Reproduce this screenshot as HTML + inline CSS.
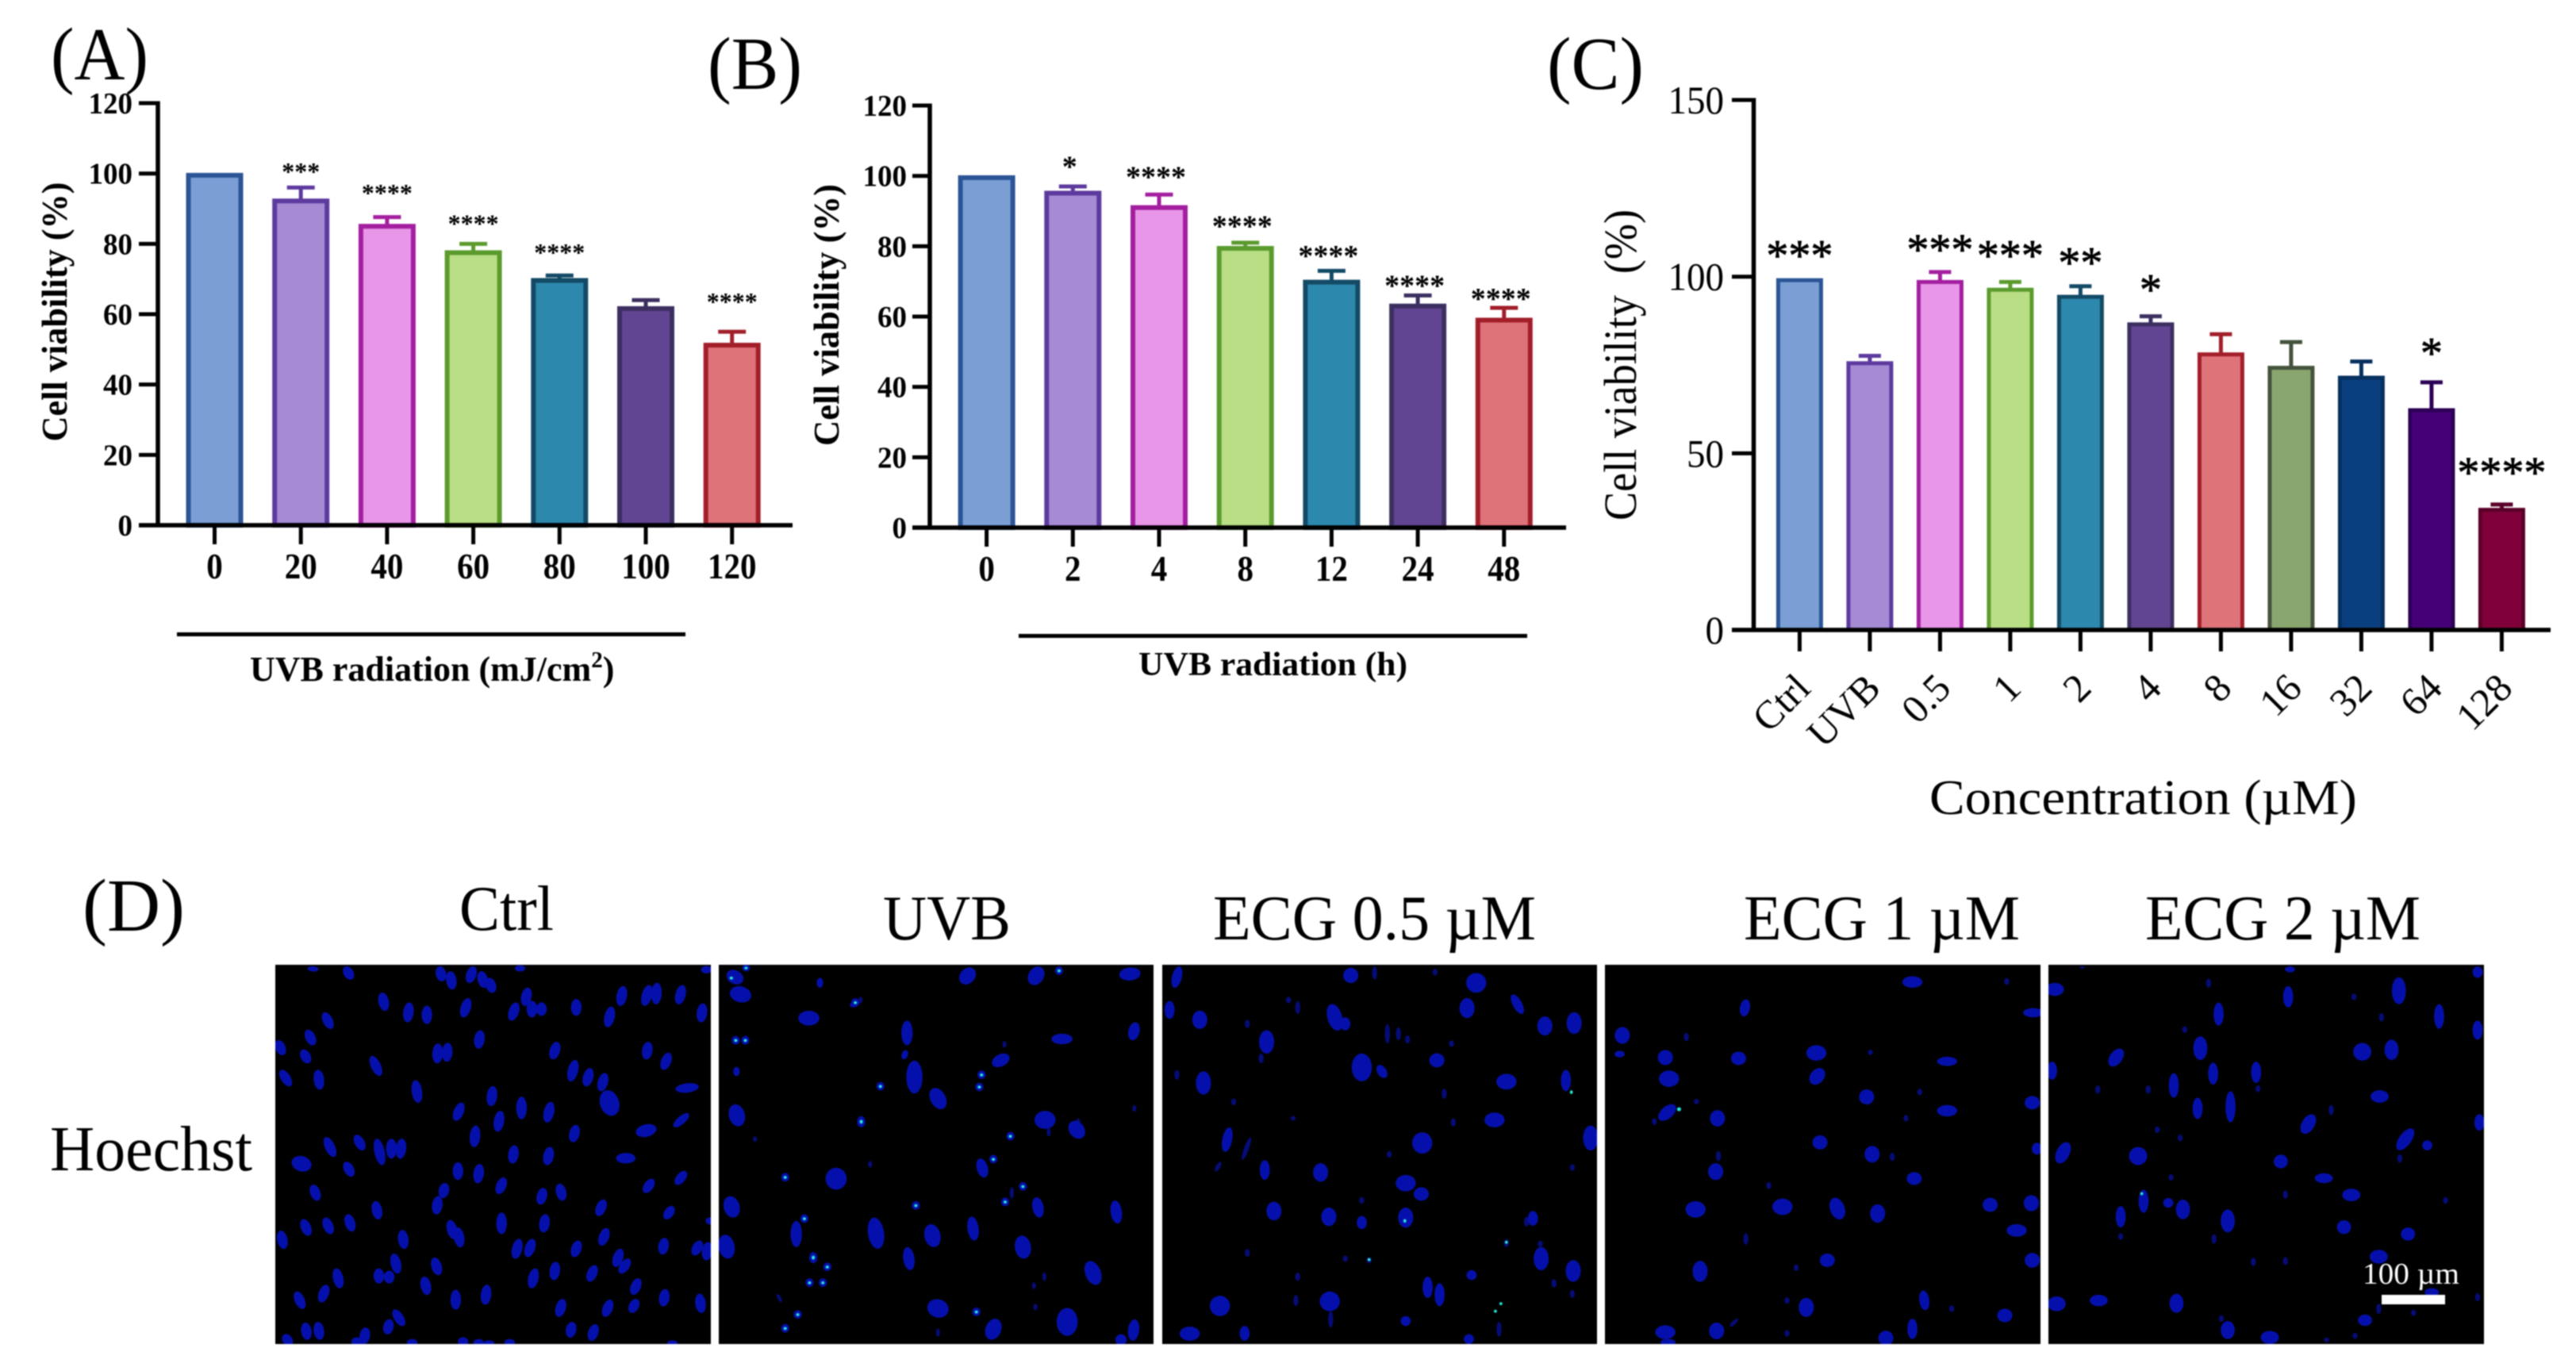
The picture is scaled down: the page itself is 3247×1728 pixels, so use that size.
<!DOCTYPE html>
<html lang="en">
<head>
<meta charset="utf-8">
<title>Cell viability panels and Hoechst staining</title>
<style>
html,body{margin:0;padding:0;background:#fff}
svg#figure{display:block;filter:blur(.8px)}
text{font-family:"Liberation Serif",serif;fill:#000}
.b{font-weight:bold}
.nuc{fill:#0510ac;stroke:none}
.dim{fill:#050c78;stroke:none}
.hot{fill:#25e6d8;stroke:none}
</style>
</head>
<body>
<svg id="figure" xmlns="http://www.w3.org/2000/svg" width="3247" height="1728" viewBox="0 0 3247 1728">
<rect width="3247" height="1728" fill="#fff"/>

<text x="64" y="100" font-size="94" textLength="123" lengthAdjust="spacingAndGlyphs">(A)</text>
<text x="892" y="112" font-size="94" textLength="119" lengthAdjust="spacingAndGlyphs">(B)</text>
<text x="1950" y="112" font-size="94" textLength="122" lengthAdjust="spacingAndGlyphs">(C)</text>
<text x="104" y="1173" font-size="94" textLength="129" lengthAdjust="spacingAndGlyphs">(D)</text>

<g id="chart-a"></g>
<g id="chart-b"></g>
<g id="chart-c"></g>

<text class="b" transform="translate(84 393) rotate(-90)" text-anchor="middle" font-size="46" textLength="327" lengthAdjust="spacingAndGlyphs">Cell viability (%)</text>
<text class="b" transform="translate(1057 397) rotate(-90)" text-anchor="middle" font-size="46" textLength="330" lengthAdjust="spacingAndGlyphs">Cell viability (%)</text>
<text transform="translate(2062 460) rotate(-90)" text-anchor="middle" font-size="58" textLength="392" lengthAdjust="spacingAndGlyphs" xml:space="preserve">Cell viability  (%)</text>

<rect x="223" y="797" width="641" height="5"/>
<text class="b" x="315" y="858" font-size="44">UVB radiation (mJ/cm<tspan font-size="29" dy="-17">2</tspan><tspan dy="17">)</tspan></text>
<rect x="1284" y="799" width="641" height="5"/>
<text class="b" x="1435" y="851" font-size="42" textLength="339" lengthAdjust="spacingAndGlyphs">UVB radiation (h)</text>
<text x="2432" y="1026" font-size="62" textLength="539" lengthAdjust="spacingAndGlyphs">Concentration (µM)</text>

<text x="579" y="1172" font-size="80" textLength="119" lengthAdjust="spacingAndGlyphs">Ctrl</text>
<text x="1113" y="1184" font-size="80" textLength="161" lengthAdjust="spacingAndGlyphs">UVB</text>
<text x="1529" y="1184" font-size="80" textLength="407" lengthAdjust="spacingAndGlyphs">ECG 0.5 µM</text>
<text x="2198" y="1184" font-size="80" textLength="348" lengthAdjust="spacingAndGlyphs">ECG 1 µM</text>
<text x="2704" y="1184" font-size="80" textLength="347" lengthAdjust="spacingAndGlyphs">ECG 2 µM</text>
<text x="63" y="1475" font-size="80" textLength="255" lengthAdjust="spacingAndGlyphs">Hoechst</text>

<!-- Micrograph: Ctrl -->
<g>
<rect x="347" y="1216" width="549" height="478" fill="#000"/>
<svg x="347" y="1216" width="549" height="478" viewBox="373 330 589 1155" preserveAspectRatio="none">
<path class="nuc" stroke-width="13" d="M423 341l2 3M470 341l4 28M596 341l2 33M610 356l2 43M640 341l-4 38M652 356l3 38M663 376l3 33M704 338v6M956 340v10M518 421l3 43M554 451l-2 48M578 461v43M633 438l-5 46M714 406l-3 43M698 451l-5 43M720 446v38M733 451v28M780 441v38M827 464l-4 50M843 401l-3 48M878 398l-5 51M889 391l-1 53M923 398l-4 46M951 454l-2 45M441 481l6 38M418 534l5 35M378 566l4 33M412 594l4 30M650 536l-2 43M593 576l-1 48M606 574l-1 45M753 571l-4 41M877 571l-2 41M904 604l-5 40M505 614l8 48M383 656l8 38M431 656l2 48M778 626l-5 53M798 651l-4 43M818 666l-4 43M563 688l3 56M667 706l-2 48M624 756l-6 43M706 738v56M745 754l-4 50M677 781l-3 51M928 788l-12 31M779 824l-3 40M644 826l-2 53M443 861l8 48M484 854l6 35M511 866l6 68M530 866v48M544 866l-2 48M696 886l-2 43M744 891l-3 43M470 936l5 33M620 938v41M649 943l-2 46M925 964l-7 30M681 984l-5 38M881 988l-6 31M602 1001l-2 33M425 1006l4 36M735 1016l-3 38M758 1003l3 39M593 1041l-2 43M509 1056l3 43M816 1051l-5 38M908 1071l-5 28M679 1091v53M738 1096l-2 43M412 1111l5 38M442 1106l5 38M472 1096l4 40M610 1114l4 45M620 1136l3 48M545 1144l2 45M381 1146l3 43M820 1138l-5 41M702 1171l-4 48M720 1171l-5 43M782 1176l-4 38M899 1168l-2 38M946 1176l-5 33M958 1181l-2 43M839 1201l-5 43M849 1231l-7 33M534 1216l4 48M589 1228l4 41M752 1241l-2 43M724 1261l-4 48M804 1251l-5 38M863 1291l-5 38M456 1261l4 48M513 1261v33M527 1268v26M575 1286l3 43M441 1311l-5 41M403 1331l6 41M617 1326v48M659 1311l-2 48M900 1324l-2 40M947 1338l2 46M761 1354l-4 42M825 1356l-5 40M860 1354l-4 30M536 1386l8 38M527 1416l-2 33M414 1426l2 40M431 1424l2 42M495 1441l-2 38M774 1424l-2 35M805 1431l-4 38M388 1461l3 24M483 1471v14M558 1476v9M627 1471v14M648 1476v9M662 1480v5M690 1476v9M910 1480v5M962 1105v10"/>
<path class="nuc" stroke-width="24" d="M934 702l-8 6M823 724l4 54M877 827l-5 16M407 924l3 24M847 915v8"/>
</svg>
</g>

<!-- Micrograph: UVB -->
<g>
<rect x="906" y="1216" width="548" height="478" fill="#000"/>
<svg x="906" y="1216" width="548" height="478" viewBox="973 330 589 1155" preserveAspectRatio="none">
<path class="dim" stroke-width="5" d="M1165 430v15M1360 565v15M1420 830v20M1022 855v12M1178 930v15M1370 1010v30M1053 1335l4 20M1414 1270v20M1400 1300v15M1402 1365v15M1460 800v15M1536 760v15M1270 1440v20"/>
<path class="nuc" stroke-width="8" d="M1226 594l-2 20M1155 449v7M1110 374v22M997 645v20"/>
<path class="nuc" stroke-width="14" d="M1228 507v61M1537 512l-3 41M1328 927l4 44M1404 1045l3 48M1510 1055l3 56M1078 1117v66M1316 1104l3 59M1229 1197l3 56M1536 1417l-2 51M1518 1462v20"/>
<path class="nuc" stroke-width="20" d="M1312 348l-4 32M1405 345l-4 37M993 355l4 25M1358 610l-6 22M1238 632v80M1267 715l6 45M996 765l3 47M1456 815l4 35M989 1045l3 45M1184 1110l4 75M1261 1130l3 50M1384 1165l2 50M982 1162l3 53M1477 1242l6 53M1347 1418l-4 44"/>
<path class="nuc" stroke-width="26" d="M1531 351l-2 14M1001 408l3 24M1095 483v19M1438 553v6M1415 788v29M1132 961v41M1269 1361l2 31M1445 1388v59"/>
<path class="nuc" stroke-width="10" d="M990 362v16M1010 335v10M1434 340v16M1158 437v16M996 552v16M1009 552v16M1329 657v16M1326 694v16M1192 692v16M1166 796v24M1368 844v16M1345 914v16M1063 969v16M1385 997v16M1361 1044v16M1240 1055v16M1089 1095v16M1101 1210v24M1120 1242v16M1096 1290v16M1114 1290v16M1080 1387v16M1322 1379v16M1063 1429v16"/>
<path class="hot" stroke-width="4" d="M990 368v5M1010 338v4M1434 346v5M1158 443v5M996 558v5M1009 558v5M1329 663v5M1326 700v5M1192 698v5M1166 804v8M1368 850v5M1345 920v5M1063 975v5M1385 1003v5M1361 1050v5M1240 1061v5M1089 1101v5M1101 1218v8M1120 1248v5M1096 1296v5M1114 1296v5M1080 1393v5M1322 1385v5M1063 1435v5"/>
</svg>
</g>

<!-- Micrograph: ECG 0.5 -->
<g>
<rect x="1465" y="1216" width="548" height="478" fill="#000"/>
<svg x="1465" y="1216" width="548" height="478" viewBox="22 330 475 1155" preserveAspectRatio="none">
<path class="dim" stroke-width="5" d="M254 338v34M435 1173v14M398 1168v19M248 1223v14M222 1218v14M115 1198v19M206 1388v44M165 793v9M118 858l-8 64M85 933l-4 24M170 443v34M268 513v54M290 548v19M130 603v24M280 523v34M338 563v14M38 653v24M168 1338v29M470 1323v19M320 345v15M160 430v15M115 500v20M330 710v25M340 800v20M270 900v15M240 1040v15M420 1100v25M390 1420v40M170 1270v20M450 1290v20M470 940v15M100 740v15"/>
<path class="nuc" stroke-width="10" d="M40 340l-4 55M406 425l8 50M30 445v45M222 495v30M463 655v55M95 830l-4 65M427 1085v35M134 930v50M240 1100v30M312 1285v55M325 1305v60M360 1265v20M288 1405v20M112 1435v35M357 1460v20M260 640l4 30"/>
<path class="nuc" stroke-width="15" d="M228 347v31M355 439v46M63 477v41M440 495v43M472 482v51M136 537v56M67 662v56M195 942v41M305 1015v26M204 1077v41M288 1077v46M144 1059v42M436 1197v56M471 1237v51M208 457l5 66M322 607v28M490 827v61"/>
<path class="nuc" stroke-width="20" d="M365 365v40M240 610v65M398 672v28M385 790v25M306 850v45M288 980v30M85 1348v42M205 1335v40M52 1442v23"/>
<path class="hot" stroke-width="3" d="M469 714v8M287 1106v8M398 1172v6M392 1359v6M386 1382v6M248 1225v6"/>
</svg>
</g>

<!-- Micrograph: ECG 1 -->
<g>
<rect x="2023" y="1216" width="549" height="478" fill="#000"/>
<svg x="2023" y="1216" width="549" height="478" viewBox="506 330 476 1155" preserveAspectRatio="none">
<path class="dim" stroke-width="5" d="M945 373v16M796 591v11M606 741v11M595 540v20M660 1150v30M850 710v15M835 790v15M820 905v20M685 995v15M715 1245v15M885 1370v15M705 1345v15M650 1410l-6 20M630 900v25M560 800v15M705 1445v15"/>
<path class="nuc" stroke-width="10" d="M660 440l-2 42M522 597v10M978 877v26M854 1327l2 50M842 1413v52"/>
<path class="nuc" stroke-width="15" d="M525 527v36M572 597v31M652 602v26M740 652l-4 36M792 717v31M973 737v26M578 762l-8 36M629 780v35M741 857v28M798 889v36M627 942v36M844 969v24M758 1047l4 51M804 1067v41M927 1047v28M972 1039v34M749 1217v26M973 1215v30M610 1239v49M726 1352v43M943 1385v26M628 1427v36M575 1477v5M813 1452v30"/>
<path class="nuc" stroke-width="20" d="M842 375v15M974 472v8M737 585v27M880 620v8M576 662v30M880 767v15M605 1060v30M700 1052v30M956 1130v18M572 1438v22"/>
<path class="hot" stroke-width="4" d="M587 766v8"/>
</svg>
</g>

<!-- Micrograph: ECG 2 -->
<g>
<rect x="2582" y="1216" width="549" height="478" fill="#000"/>
<svg x="2582" y="1216" width="549" height="478" viewBox="991 330 476 1155" preserveAspectRatio="none">
<path class="dim" stroke-width="5" d="M1028 337v2M1166 375v22M1352 1365v26M1326 1453v14M1295 1468v9M1460 1333v19M1172 1153v24M1250 1223v19M1390 1383v14M1140 520v15M1355 480v20M1325 420v15M1100 700v20M1045 700v20M1220 700v15M1300 760v25M1110 825v15M1135 850v15M1375 910v20M1125 970v15M1250 1020v20M1425 1040v15M1070 1150v15M1215 1225v20M1180 1400v15"/>
<path class="nuc" stroke-width="10" d="M1255 340v8M1253 400v55M1177 450v60M1418 455v65M1460 505v48M1171 633v57M1218 630v55M1128 665v65M995 630v45M1154 740v55M1190 720v85M1462 790v40M1405 870v20M1095 1020v60M1122 1045v20M1070 1070v55M1460 340v25"/>
<path class="nuc" stroke-width="14" d="M1157 555v58M1366 565v48M1068 592l-6 41M1374 375v68M1386 835l-10 53M1010 877l-6 51M1245 915v28M1138 1052v46M1187 1082v56M1314 1115v28M1384 1137v26M1131 1339v44M1337 1402v21M1187 1422v41M1410 1322v11M1278 792l-6 46"/>
<path class="nuc" stroke-width="18" d="M998 394v22M1334 577v36M1353 721v20M1089 894v37M1292 974v12M1322 1021v20M1352 1207v24M1000 1349v27M1046 1344v17M1233 1454v22"/>
<path class="hot" stroke-width="3" d="M1093 1024v6"/>
</svg>
<rect x="3002" y="1632" width="80" height="12" fill="#fff"/>
<text x="2978" y="1618" font-size="38" style="fill:#fff" textLength="122" lengthAdjust="spacingAndGlyphs">100 µm</text>
</g>
</svg>

<script>
const svgNS = 'http://www.w3.org/2000/svg';

/* Panel A */
const aCategories = ['0','20','40','60','80','100','120'];
const aValues = [99.5,92.2,85,77.5,69.6,61.6,51.2];
const aErrorTops = [99.5,96,87.6,80,71,64,55];
const aStars = ['','***','****','****','****','','****'];
const aStarLevels = [0,101.5,95.4,86.8,78.5,0,64.5];
const aTicks = [0,20,40,60,80,100,120];

/* Panel B */
const bCategories = ['0','2','4','8','12','24','48'];
const bValues = [99.5,95.1,91,79.4,69.8,63,59];
const bErrorTops = [99.5,97,94.7,81,73,66,62.5];
const bStars = ['','*','****','****','****','****','****'];
const bStarLevels = [0,103.5,100.6,86.6,78.1,69.7,65.9];
const bTicks = [0,20,40,60,80,100,120];

/* Panel C */
const cCategories = ['Ctrl','UVB','0.5','1','2','4','8','16','32','64','128'];
const cValues = [99,75.5,98.5,96.3,94.3,86.5,78,74.2,71.4,62.2,34];
const cErrorTops = [99,77.6,101.3,98.5,97.3,88.8,83.7,81.5,76,70.1,35.5];
const cStars = ['***','','***','***','**','*','','','','*','****'];
const cStarLevels = [106.9,0,108.5,106.9,104.9,97.2,0,0,0,79.3,45.4];
const cTicks = [0,50,100,150];

/* Palettes */
const fillsAB = ['#7b9fd4','#a58ad4','#e896e8','#b9de85','#2d88ad','#624592','#df737a'];
const strokesAB = ['#2b5596','#5d3a9e','#a31fa0','#5b9b2e','#134a66','#3c2f60','#a21f2a'];
const fillsC = ['#7b9fd4','#a58ad4','#e896e8','#b9de85','#2d88ad','#624592','#df737a','#8aa66f','#0a3f7f','#450078','#80003a'];
const strokesC = ['#2b5596','#5d3a9e','#a31fa0','#5b9b2e','#134a66','#3c2f60','#a21f2a','#45523c','#06305e','#2c0055','#5a0028'];

function mk(parent, tag, attrs) {
  const el = document.createElementNS(svgNS, tag);
  for (const k in attrs) el.setAttribute(k, attrs[k]);
  parent.appendChild(el);
  return el;
}

function drawChart(root, o) {
  const xScale = i => o.firstX + i * o.step;
  const yScale = v => o.y0 - v * o.unit;

  o.values.forEach((v, i) => {
    const cx = xScale(i);
    if (o.errors[i] > v) {
      const stem = mk(root, 'line', {x1: cx, x2: cx, y1: yScale(v), y2: yScale(o.errors[i]), stroke: o.strokes[i], 'stroke-width': 5});
      
      
      const cap = mk(root, 'line', {x1: cx - o.capHalf, x2: cx + o.capHalf, y1: yScale(o.errors[i]), y2: yScale(o.errors[i]), stroke: o.strokes[i], 'stroke-width': 5});
      
      
    }
    const bar = mk(root, 'rect', {x: cx - o.barW / 2, y: yScale(v), width: o.barW, height: o.y0 - yScale(v), fill: o.fills[i], stroke: o.strokes[i], 'stroke-width': o.barStroke});
    
    

    if (o.stars[i]) {
      const star = mk(root, 'text', {x: cx + o.starDx, y: yScale(o.starLevels[i]) + o.starSize * o.starK, 'font-size': o.starSize, 'text-anchor': 'middle'});
      if (o.bold) star.setAttribute('class', 'b');
      if (o.starStroke) {
        star.setAttribute('stroke', '#000');
        star.setAttribute('stroke-width', o.starStroke);
      }
      star.textContent = o.stars[i];
      
      
    }

    const tick = mk(root, 'line', {x1: cx, x2: cx, y1: o.y0, y2: o.tickBottom, stroke: '#000', 'stroke-width': 5});
    
    

    const lab = mk(root, 'text', o.rotated
      ? {transform: 'translate(' + (cx + 16) + ' ' + o.labelY + ') rotate(-45)', 'font-size': o.xFont, 'text-anchor': 'end'}
      : {x: cx, y: o.labelY, 'font-size': o.xFont, 'text-anchor': 'middle', textLength: o.categories[i].length * 0.5 * o.xFontW, lengthAdjust: 'spacingAndGlyphs'});
    if (o.bold) lab.setAttribute('class', 'b');
    lab.textContent = o.categories[i];
    
    
  });

  const yAxis = mk(root, 'line', {x1: o.axisX, x2: o.axisX, y1: yScale(o.ticks[o.ticks.length - 1]) - 2.5, y2: o.y0 + 2.5, stroke: '#000', 'stroke-width': 5.5});
  
  
  const xAxis = mk(root, 'line', {x1: o.axisLeft, x2: o.axisRight, y1: o.y0, y2: o.y0, stroke: '#000', 'stroke-width': 5.5});
  
  

  o.ticks.forEach(t => {
    const tick = mk(root, 'line', {x1: o.axisLeft, x2: o.axisX, y1: yScale(t), y2: yScale(t), stroke: '#000', 'stroke-width': 5});
    
    
    const text = String(t);
    const lab = mk(root, 'text', {x: o.yLabelRight, y: yScale(t) + o.yFont * 0.34, 'font-size': o.yFont, 'text-anchor': 'end', textLength: text.length * 0.5 * o.yFontW, lengthAdjust: 'spacingAndGlyphs'});
    if (o.bold) lab.setAttribute('class', 'b');
    lab.textContent = text;
    
    
  });
}

drawChart(document.getElementById('chart-a'), {
  categories: aCategories, values: aValues, errors: aErrorTops, stars: aStars, starLevels: aStarLevels, ticks: aTicks,
  fills: fillsAB, strokes: strokesAB, bold: true, rotated: false,
  firstX: 270.5, step: 108.7, y0: 662, unit: 4.433, barW: 66, barStroke: 6, capHalf: 17.5,
  starSize: 32, starK: 0.473, starDx: 0, xFont: 46, xFontW: 41, yFont: 38, yFontW: 37, labelY: 729, tickBottom: 686,
  axisX: 199, axisLeft: 175, axisRight: 999, yLabelRight: 167
});
drawChart(document.getElementById('chart-b'), {
  categories: bCategories, values: bValues, errors: bErrorTops, stars: bStars, starLevels: bStarLevels, ticks: bTicks,
  fills: fillsAB, strokes: strokesAB, bold: true, rotated: false,
  firstX: 1243.6, step: 108.7, y0: 665, unit: 4.433, barW: 66, barStroke: 6, capHalf: 17.5,
  starSize: 38, starK: 0.43, starDx: -4, xFont: 46, xFontW: 41, yFont: 38, yFontW: 37, labelY: 732, tickBottom: 689,
  axisX: 1172, axisLeft: 1150, axisRight: 1974, yLabelRight: 1143
});
drawChart(document.getElementById('chart-c'), {
  categories: cCategories, values: cValues, errors: cErrorTops, stars: cStars, starLevels: cStarLevels, ticks: cTicks,
  fills: fillsC, strokes: strokesC, bold: false, rotated: true,
  firstX: 2268.4, step: 88.5, y0: 794, unit: 4.453, barW: 54, barStroke: 5, capHalf: 14,
  starSize: 56, starK: 0.40, starStroke: 0.8, starDx: 0, xFont: 50, yFont: 50, yFontW: 47, labelY: 870, tickBottom: 821,
  axisX: 2210.5, axisLeft: 2183, axisRight: 3215, yLabelRight: 2173
});

/* Micrograph nuclei: expand each compact outline list into real ellipses. */
document.querySelectorAll('path.nuc, path.dim, path.hot').forEach(src => {
  const w = parseFloat(src.getAttribute('stroke-width'));
  const cls = src.getAttribute('class');
  const d = src.getAttribute('d');
  const re = /M(-?\d+) (-?\d+)(?:l(-?\d+) (-?\d+)|v(\d+))/g;
  let m;
  while ((m = re.exec(d))) {
    const x = +m[1];
    const y = +m[2];
    const dx = m[3] !== undefined ? +m[3] : 0;
    const dy = m[3] !== undefined ? +m[4] : +m[5];
    const cx = x + dx / 2;
    const cy = y + dy / 2;
    const angle = -Math.atan2(dx, dy) * 180 / Math.PI;
    const el = document.createElementNS(svgNS, 'ellipse');
    el.setAttribute('class', cls);
    el.setAttribute('cx', cx);
    el.setAttribute('cy', cy);
    el.setAttribute('rx', w * 0.55);
    el.setAttribute('ry', Math.hypot(dx, dy) / 2 + w / 2);
    el.setAttribute('transform', 'rotate(' + angle + ' ' + cx + ' ' + cy + ')');
    
    
    src.parentNode.insertBefore(el, src);
  }
  src.remove();
});
</script>
</body>
</html>
